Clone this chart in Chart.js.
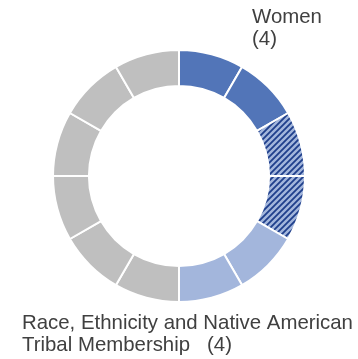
<!DOCTYPE html>
<html><head><meta charset="utf-8">
<script src="https://cdn.jsdelivr.net/npm/chart.js@4"></script>
<style>html,body{margin:0;padding:0;background:#fff;}#wrap{width:358px;height:359px;}</style>
</head><body><div id="wrap"><canvas id="c" width="358" height="359"></canvas></div>
<script>
const categories = ["Women 1","Women 2","Women 3","Women 4","Race 1","Race 2","Race 3","Race 4","Other 1","Other 2","Other 3","Other 4"];
const values = [1,1,1,1,1,1,1,1,1,1,1,1];
const kinds = ["dark","dark","hatch","hatch","light","light","gray","gray","gray","gray","gray","gray"];
const labelWomen = ["Women","(4)"];
const labelRace = ["Race, Ethnicity and Native American","Tribal Membership   (4)"];

function hatchPattern(){
  const s = 6;
  const cv = document.createElement('canvas'); cv.width = s; cv.height = s;
  const g = cv.getContext('2d');
  g.fillStyle = '#a3b6dc'; g.fillRect(0,0,s,s);
  g.strokeStyle = '#1f3f8c'; g.lineWidth = 1.8;
  g.beginPath();
  g.moveTo(-1, s+1); g.lineTo(s+1, -1);
  g.moveTo(-1, 1); g.lineTo(1, -1);
  g.moveTo(s-1, s+1); g.lineTo(s+1, s-1);
  g.stroke();
  return g.createPattern(cv, 'repeat');
}
const pat = hatchPattern();
const colorMap = {dark:'#5275b8', light:'#a3b6dc', gray:'#bfbfbf', hatch:pat};

const textPlugin = {
  id:'txt',
  afterDraw(chart){
    const ctx = chart.ctx;
    ctx.save();
    ctx.font = '20.4px "Liberation Sans", Arial, sans-serif';
    ctx.fillStyle = '#404040';
    ctx.textBaseline = 'alphabetic';
    ctx.fillText(labelWomen[0], 252, 23);
    ctx.fillText(labelWomen[1], 252, 45);
    ctx.fillText(labelRace[0], 22, 329);
    ctx.fillText(labelRace[1], 22, 351);
    ctx.restore();
  }
};

new Chart(document.getElementById('c'), {
  type:'doughnut',
  data:{labels:categories, datasets:[{data:values, backgroundColor:kinds.map(k=>colorMap[k]), borderColor:'#ffffff', borderWidth:2, hoverOffset:0}]},
  options:{
    responsive:false, animation:false,
    radius:126, cutout:'71.5%',
    layout:{padding:{bottom:7}},
    plugins:{legend:{display:false}, tooltip:{enabled:false}},
    events:[]
  },
  plugins:[textPlugin]
});
</script></body></html>
